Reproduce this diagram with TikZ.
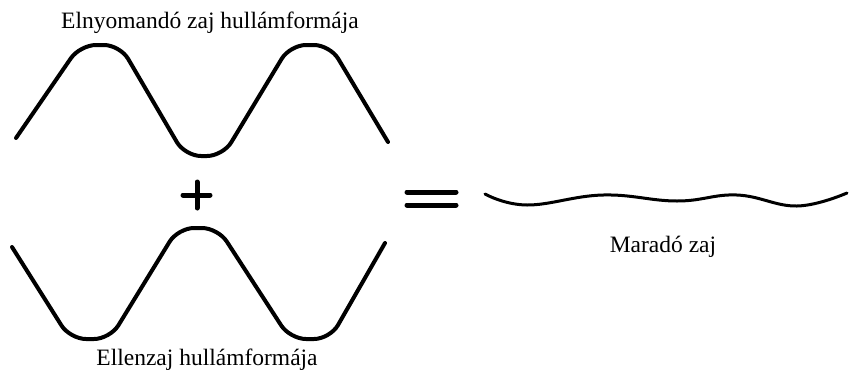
\documentclass[tikz,border=0pt]{standalone}
\usepackage{fontspec}
\setmainfont{Liberation Serif}

\begin{document}
\begin{tikzpicture}[
    x=1pt, y=-1pt,
    wave/.style={line width=4pt, rounded corners=16pt, line cap=round},
    flatwave/.style={line width=3pt, line cap=round},
    sign/.style={line width=5pt, line cap=round},
    caption/.style={font=\fontsize{23.5}{28}\selectfont, inner sep=0pt, anchor=base}
]
    \useasboundingbox (0,0) rectangle (849,376);

    % noise to cancel and anti-noise
    \draw[wave] (16,138) -- (80,45) -- (120,45) -- (185,156) -- (223,156)
        -- (290,45) -- (330,45) -- (388,142);
    \draw[wave] (12,247) -- (70,339) -- (110,339) -- (178,228) -- (218,228)
        -- (290,339) -- (330,339) -- (385,243);

    % plus and equals
    \draw[sign] (183,195) -- (210,195);
    \draw[sign] (197,182) -- (197,208);
    \draw[sign] (407,192) -- (456,192);
    \draw[sign] (407,205) -- (456,205);

    % residual noise
    \draw[flatwave] plot[smooth, tension=0.7] coordinates {
        (485,194) (527,205) (603,195) (677,201) (737,195) (797,206) (847,193)};

    \node[caption] (noise) at (210,28) {Elnyomandó zaj hullámformája};
    \node[caption] (anti) at (207,365) {Ellenzaj hullámformája};
    \node[caption] (rest) at (663,252) {Maradó zaj};
\end{tikzpicture}
\end{document}
